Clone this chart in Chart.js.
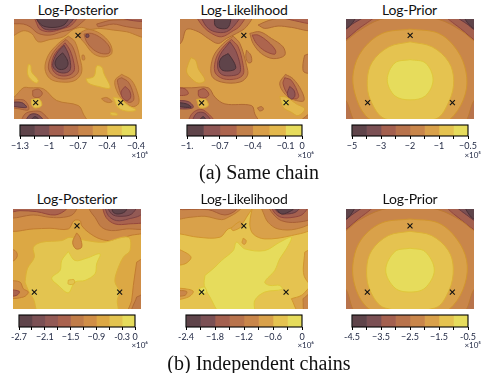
<!DOCTYPE html>
<html><head><meta charset="utf-8">
<script src="https://cdn.jsdelivr.net/npm/chart.js@4/dist/chart.umd.js"></script>
<style>
html,body{margin:0;padding:0;background:#fff;width:490px;height:373px;overflow:hidden}
canvas{position:absolute;display:block}
.t{position:absolute;text-align:center;white-space:nowrap;color:#111}
.title{font:14px Lato,sans-serif;width:130px;letter-spacing:-0.2px}
.exp{font:8px Lato,sans-serif;width:30px;text-align:right;color:#1c2440}
.cap{font:20px "Liberation Serif",serif;width:300px}
</style></head><body>
<div id="root"></div>
<script>
const palette8=['#5f444a','#7b5054','#a4604f','#b8734c','#c9864a','#d9a14a','#e5c350','#e6dc5c'];
const palette7=['#5f444a','#8f5655','#ad654e','#c2804a','#d99f48','#e3b84c','#e6dc5c'];
const palette9=['#5f444a','#7b5054','#935a55','#a9624e','#c07c48','#d08e46','#dca844','#e3c450','#e6dc5c'];
const line8=['#4a3036','#66383e','#92463e','#a85f36','#bd7a32','#d2962e','#dcb136','#e0c83a'];
const line7=['#4a3036','#7a3f40','#9a4c3c','#b06a34','#cb8d30','#d8a634','#e0c83a'];
const line9=['#4a3036','#66383e','#7c4244','#96483c','#b06a34','#c27c30','#d2982e','#dcb136','#e0c83a'];

const markersPostSame=[234,106,107,306,362,306];
const markersLikeSame=[237,106,110,307,364,306];
const markersPriorSame=[254,106,126,306,381,306];
const markersPostInd=[231,121,103,320,359,320];
const markersLikeInd=[237,121,110,320,364,320];
const markersPriorInd=[255,121,127,320,382,320];

const posteriorSame=[
[5,[30,45,440,45,440,370,30,370]],
[4,[30,45,440,45,440,110,380,95,340,90,300,85,270,88,245,82,220,88,190,110,150,118,115,125,95,100,70,92,30,108]],
[4,[30,290,42,290,70,262,90,262,130,265,170,300,235,315,250,340,262,370,30,370]],
[3,[30,45,262,45,240,72,215,88,185,95,150,105,115,100,90,80,70,72,30,68]],
[2,[100,45,232,45,215,75,190,85,150,95,120,88,110,70]],
[1,[103,45,222,45,205,75,170,88,130,85]],
[0,[105,45,205,45,195,72,165,82,130,78,115,65]],
[3,[290,72,340,60,440,66,440,85,380,80,340,72,295,80]],
[2,[350,50,440,50,440,62,400,62]],
[4,[205,108,225,125,240,175,245,215,225,240,185,245,150,235,135,205,145,165,175,130]],
[3,[198,118,218,140,232,185,235,215,215,232,180,235,155,222,145,200,155,165,178,135]],
[2,[195,128,210,150,222,190,222,212,205,225,178,225,160,212,155,190,165,160]],
[1,[192,135,205,160,212,195,208,212,190,218,170,212,158,195,170,160]],
[0,[188,158,200,175,204,192,195,205,175,206,165,190,172,172]],
[4,[245,95,265,88,300,100,330,130,335,160,310,170,280,160,255,130,240,110]],
[3,[252,102,275,100,305,115,328,140,328,158,305,160,280,148,260,125]],
[1,[258,103,266,103,266,111,258,111]],
[4,[246,165,252,165,254,178,247,178]],
[4,[365,222,395,240,415,285,415,310,395,318,370,300,350,270,345,240]],
[3,[365,232,385,245,400,280,400,300,385,305,365,285,355,255,353,238]],
[2,[375,258,388,270,392,290,382,300,370,295,363,275]],
[6,[340,290,360,295,385,315,408,328,385,332,355,322]],
[6,[332,336,350,338,352,343,332,342]],
[4,[305,294,320,291,336,303,325,306,310,300]],
[6,[258,235,282,228,290,197,305,200,312,220,330,262,295,258,265,248]],
[6,[85,192,92,195,95,215,115,240,108,248,88,232,82,215]],
[6,[95,297,118,296,125,315,105,322,95,312]],
[3,[98,270,115,266,127,278,118,290,100,288]],
[3,[30,300,70,298,85,315,85,328,60,325,30,318]],
[1,[30,305,65,306,80,320,60,320,30,314]],
[3,[60,370,75,340,100,332,125,335,150,370]],
[1,[72,370,90,342,115,343,135,370]],
[0,[85,370,105,348,125,370]]
];
const likelihoodSame=[
[4,[30,45,445,45,445,370,30,370]],
[3,[30,45,260,45,245,80,215,100,185,115,160,130,130,115,100,95,65,88,50,125,30,140]],
[2,[90,45,240,45,225,78,205,92,170,110,140,100,115,80]],
[1,[105,45,225,45,212,72,185,95,150,95,125,80]],
[0,[150,45,195,45,190,82,165,85,150,75]],
[3,[280,75,310,62,370,50,445,50,445,90,380,82,340,78,300,85]],
[2,[340,50,445,50,445,70,390,62]],
[3,[205,108,225,130,245,195,248,225,225,245,170,245,140,225,145,170,175,130]],
[2,[200,118,220,140,235,195,235,222,215,235,175,235,150,215,155,170,180,135]],
[1,[195,125,212,150,226,195,224,218,200,226,170,222,158,200,165,165]],
[0,[190,160,207,185,212,205,190,212,170,208,163,190,170,172]],
[3,[245,150,258,165,260,185,250,187,243,170]],
[3,[255,100,285,95,320,115,355,140,360,165,325,175,290,160,265,130]],
[2,[262,105,280,105,310,125,332,150,330,162,300,152,275,130]],
[3,[362,222,385,235,410,270,418,300,395,300,365,285,345,250]],
[2,[360,232,380,240,402,285,395,295,372,285,355,250]],
[1,[375,258,388,270,390,288,378,296,368,280]],
[5,[78,172,92,180,100,205,120,240,100,248,80,235,65,215,70,190]],
[3,[30,262,80,262,130,262,150,290,180,310,260,315,270,340,282,370,30,370]],
[5,[95,297,120,295,130,315,105,322]],
[2,[100,270,118,265,132,282,120,292,102,288]],
[2,[30,262,60,265,70,280,50,285,30,280]],
[1,[30,300,70,303,85,320,60,325,30,320]],
[0,[30,305,65,310,78,320,30,315]],
[2,[65,370,85,335,115,328,150,370]],
[1,[78,370,95,338,120,338,140,370]],
[0,[95,370,115,348,125,370]],
[5,[345,288,365,290,395,310,420,325,400,345,380,335,355,320]],
[6,[355,300,370,302,370,312,356,310]],
[3,[278,322,290,318,296,326,285,331]],
[3,[420,165,445,160,445,215,418,215,415,190]],
[3,[395,370,445,335,445,370]]
];
const priorSame=[
[3,[45,45,460,45,460,370,45,370]],
[2,[45,45,148,45,100,85,45,122]],
[1,[45,45,120,45,80,72,45,95]],
[0,[45,45,92,45,61,85]],
[2,[460,45,362,45,405,85,460,122]],
[1,[460,45,390,45,425,72,460,95]],
[0,[460,45,415,45,446,85]],
[4,[45,130,61,122,100,92,165,58,254,48,340,58,408,92,446,122,460,130,460,290,446,300,408,370,100,370,61,300,45,290]],
[5,[254,87,340,100,395,150,422,215,420,280,385,345,340,370,170,370,120,345,88,280,83,215,110,150,170,100]],
[6,[254,125,320,140,370,185,385,240,372,300,330,355,180,355,135,300,125,240,140,185,190,140]],
[7,[254,178,300,188,323,238,300,286,254,298,208,286,185,238,208,188]]
];
const posteriorInd=[
[6,[25,55,440,55,440,385,25,385]],
[5,[25,55,440,55,440,135,390,150,340,165,300,160,265,140,245,120,240,105,222,105,205,130,150,128,100,130,25,132]],
[4,[25,55,230,55,220,85,190,95,150,95,100,88,25,95]],
[4,[265,55,440,55,440,125,380,130,335,135,305,125,285,95,270,75]],
[3,[25,55,200,55,200,70,165,88,110,78,60,75,25,78]],
[3,[305,55,440,55,440,105,385,115,345,115,318,95]],
[2,[312,55,420,55,425,85,385,100,350,105,325,90]],
[1,[318,55,410,55,395,85,360,92,335,85]],
[0,[335,65,380,65,375,78,355,85,340,80]],
[7,[75,290,82,250,103,215,100,185,125,170,185,165,210,155,260,165,310,170,385,155,390,195,370,215,350,260,345,290,358,318,352,345,350,385,120,385,100,340,85,315]],
[5,[230,142,240,155,245,185,228,190,218,170]],
[8,[205,198,225,225,260,218,300,205,290,235,285,265,255,285,225,290,205,322,175,300,155,278,180,255,185,225]],
[7,[205,284,222,283,222,295,205,296]],
[5,[410,230,440,215,440,385,385,385,395,345,400,300]],
[4,[410,335,440,325,440,385,395,385]],
[5,[25,285,60,290,70,310,85,320,70,335,25,335]],
[3,[25,312,58,318,50,330,25,330]],
[5,[25,190,45,195,52,210,42,225,25,228]]
];
const likelihoodInd=[
[6,[30,55,445,55,445,385,30,385]],
[7,[120,270,150,245,170,225,205,195,215,170,240,190,300,195,345,170,380,155,365,190,345,220,330,255,300,290,315,300,345,300,352,312,300,320,270,345,265,385,170,385,135,335,118,300]],
[5,[30,55,262,55,245,95,225,120,190,130,165,155,100,155,45,145,30,145]],
[5,[265,55,445,55,445,125,380,150,300,160,265,145,255,115]],
[4,[30,55,235,55,222,75,190,95,170,102,120,92,75,95,30,98]],
[4,[285,55,445,55,445,105,395,130,340,130,310,110,295,80]],
[3,[30,55,215,55,215,72,180,88,130,72,30,70]],
[3,[305,55,445,55,445,95,395,110,350,105,325,85]],
[2,[315,55,430,55,415,85,385,95,350,95,330,82]],
[1,[320,55,410,55,395,78,365,85,340,80]],
[0,[335,70,385,70,370,80,350,85]],
[5,[198,128,225,108,230,122,205,135]],
[5,[30,190,50,195,78,215,60,235,30,235]],
[5,[30,308,60,310,85,318,70,335,30,340]],
[4,[30,315,65,318,60,330,30,330]],
[5,[420,200,445,190,445,300,418,270]],
[5,[380,340,410,330,445,300,445,385,405,385]],
[4,[415,340,445,320,445,385,420,385]],
[5,[235,158,244,165,240,176,232,172]],
[7,[100,310,118,305,125,320,105,328]]
];
const priorInd=[
[3,[48,55,462,55,462,385,48,385]],
[2,[48,55,148,55,100,100,48,135]],
[1,[48,55,120,55,80,88,48,108]],
[0,[48,55,92,55,63,100]],
[2,[462,55,362,55,405,100,462,135]],
[1,[462,55,390,55,425,88,462,108]],
[0,[462,55,418,55,447,100]],
[4,[48,140,63,135,100,105,170,72,255,62,340,72,408,105,447,135,462,140,462,300,447,312,408,385,100,385,63,312,48,300]],
[5,[255,100,340,112,395,160,425,225,420,295,385,360,340,385,170,385,120,360,88,295,85,225,110,160,170,112]],
[6,[255,137,320,150,370,195,385,250,372,315,330,368,180,368,135,315,125,250,140,195,190,150]],
[7,[255,188,300,198,328,254,300,308,255,320,210,308,182,254,210,198]]
];

const barLabelsA=['−1.3','','−1','','−0.7','','−0.4','','−0.4'];
const barLabelsB=['−1.','','−0.7','','−0.4','','−0.1','0'];
const barLabelsC=['−5','','−3','','−2','','−1','','−0.5'];
const barLabelsD=['-2.7','','−2.1','','−1.5','','−0.9','','-0.3','0'];
const barLabelsE=['-2.4','','−1.8','','−1.2','','−0.6','','0'];
const barLabelsF=['-4.5','','−3.5','','−2.5','','−1.5','','-0.5'];

const panels=[
{title:'Log-Posterior',layers:posteriorSame,markers:markersPostSame,colors:palette8,lines:line8,xr:[42,426],yr:[57,355],box:[14,19,128,100],bar:[20,124.5,115.5,10.5],labels:barLabelsA,exp:'×10⁶',tx:78,ty:1,ex:[118,150]},
{title:'Log-Likelihood',layers:likelihoodSame,markers:markersLikeSame,colors:palette7,lines:line7,xr:[45,430],yr:[57,355],box:[180,19,128,100],bar:[186.5,124.5,115,10.5],labels:barLabelsB,exp:'×10⁶',tx:244,ty:1,ex:[284,150]},
{title:'Log-Prior',layers:priorSame,markers:markersPriorSame,colors:palette8,lines:line8,xr:[61,446],yr:[57,355],box:[345.5,19,128,100],bar:[352.3,124.5,115.5,10.5],labels:barLabelsC,exp:'×10⁵',tx:409.5,ty:1,ex:[451,150]},
{title:'Log-Posterior',layers:posteriorInd,markers:markersPostInd,colors:palette9,lines:line9,xr:[39,423],yr:[70,371],box:[13,208.5,128,100],bar:[19.3,314.5,115.5,12],labels:barLabelsD,exp:'×10⁶',tx:77,ty:190,ex:[118,340]},
{title:'Log-Likelihood',layers:likelihoodInd,markers:markersLikeInd,colors:palette8,lines:line8,xr:[45,430],yr:[70,371],box:[180,208.5,128,100],bar:[186.3,314.5,115.5,12],labels:barLabelsE,exp:'×10⁶',tx:244,ty:190,ex:[284,340]},
{title:'Log-Prior',layers:priorInd,markers:markersPriorInd,colors:palette8,lines:line8,xr:[63,447],yr:[70,371],box:[346,208.5,128,100],bar:[352.3,314.5,115.5,12],labels:barLabelsF,exp:'×10⁵',tx:410,ty:190,ex:[451,340]}
];
const captions=[['(a) Same chain',259,161],['(b) Independent chains',259,352]];

const root=document.getElementById('root');
function addCanvas(l,t,w,h){const c=document.createElement('canvas');c.width=Math.ceil(w);c.height=Math.ceil(h);c.style.left=l+'px';c.style.top=t+'px';root.appendChild(c);return c;}
function addText(cls,txt,l,t){const d=document.createElement('div');d.className='t '+cls;d.textContent=txt;d.style.left=l+'px';d.style.top=t+'px';root.appendChild(d);}
function pts(f){const o=[];for(let i=0;i<f.length;i+=2)o.push({x:f[i],y:f[i+1]});return o;}
const framePlugin={id:'frame',afterDraw(ch){const a=ch.chartArea,c=ch.ctx;c.save();c.strokeStyle='#000';c.lineWidth=1.1;c.strokeRect(a.left,a.top,a.width,a.height);c.restore();}};

panels.forEach(p=>{
  const n=p.layers.length;
  const ds=p.layers.map((l,i)=>{const d=pts(l[1]);d.push(d[0]);return{
    data:d,showLine:true,fill:'shape',backgroundColor:p.colors[l[0]],borderColor:i===0?'transparent':p.lines[l[0]],
    borderWidth:i===0?0:1,pointRadius:0,tension:i===0?0:0.35,order:n-i};});
  ds.push({data:pts(p.markers),showLine:false,pointStyle:'crossRot',pointRadius:3.5,pointBorderColor:'#111',pointBorderWidth:1.1,pointBackgroundColor:'transparent',order:-1});
  new Chart(addCanvas(p.box[0],p.box[1],p.box[2],p.box[3]),{type:'scatter',data:{datasets:ds},options:{
    responsive:false,animation:false,events:[],layout:{padding:0,autoPadding:false},
    elements:{line:{capBezierPoints:false}},
    plugins:{legend:{display:false},tooltip:{enabled:false}},
    scales:{x:{type:'linear',display:false,min:p.xr[0],max:p.xr[1]},y:{type:'linear',display:false,reverse:true,min:p.yr[0],max:p.yr[1]}}}});
  const N=p.colors.length,pad=16;
  const seg=p.colors.map((_,i)=>[i,i+1]);
  new Chart(addCanvas(p.bar[0]-pad,p.bar[1]-1,p.bar[2]+2*pad,p.bar[3]+26),{type:'bar',data:{labels:[''],datasets:p.colors.map((c,i)=>({data:[seg[i]],backgroundColor:c,borderWidth:0,grouped:false,categoryPercentage:1,barPercentage:1}))},
    plugins:[framePlugin],
    options:{indexAxis:'y',responsive:false,animation:false,events:[],layout:{padding:{left:pad,right:pad,top:1,bottom:0},autoPadding:false},
    plugins:{legend:{display:false},tooltip:{enabled:false}},
    scales:{y:{display:false},
      x:{type:'linear',min:0,max:N,position:'bottom',border:{display:false},
         grid:{drawOnChartArea:false,drawTicks:true,tickLength:3,color:'#000',lineWidth:1},
         afterFit(s){s.paddingLeft=0;s.paddingRight=0;s.height=25;},
         ticks:{stepSize:1,autoSkip:false,maxRotation:0,minRotation:0,padding:2,color:'#1c2440',font:{family:'Lato',size:9},callback:v=>p.labels[v]}}}}});
  addText('title',p.title,p.tx-65,p.ty);
  addText('exp',p.exp,p.ex[0],p.ex[1]);
});
captions.forEach(c=>addText('cap',c[0],c[1]-150,c[2]));
</script></body></html>
